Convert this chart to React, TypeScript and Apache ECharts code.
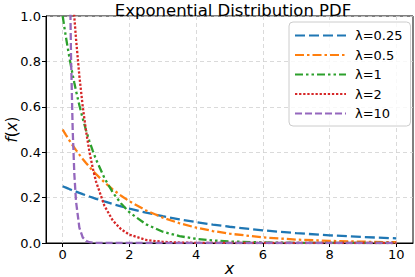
import React, { useEffect, useRef } from "react";
import * as echarts from "echarts";

const xs = [0, 0.05, 0.1, 0.15, 0.2, 0.25, 0.3, 0.35, 0.4, 0.5, 0.6, 0.7, 0.8, 0.9, 1.0, 1.25, 1.5, 1.75, 2, 2.5, 3, 3.5, 4, 4.5, 5, 6, 7, 8, 9, 10];

const lam025 = [0.25, 0.2469, 0.2438, 0.2407, 0.2376, 0.2346, 0.2316, 0.2287, 0.2262, 0.2206, 0.2152, 0.2099, 0.2047, 0.1997, 0.1947, 0.183, 0.1718, 0.1614, 0.1516, 0.1338, 0.1181, 0.1042, 0.092, 0.0812, 0.0716, 0.0558, 0.0434, 0.0338, 0.0263, 0.0205];
const lam05 = [0.5, 0.4877, 0.4756, 0.4639, 0.4524, 0.4412, 0.4304, 0.4197, 0.4094, 0.3894, 0.3704, 0.3524, 0.3352, 0.3188, 0.3033, 0.2676, 0.2362, 0.2084, 0.1839, 0.1433, 0.1116, 0.0869, 0.0677, 0.0527, 0.041, 0.0249, 0.0151, 0.0092, 0.0056, 0.0034];
const lam1 = [1.0, 0.9512, 0.9048, 0.8607, 0.8187, 0.7788, 0.7408, 0.7047, 0.6703, 0.6065, 0.5488, 0.4966, 0.4493, 0.4066, 0.3679, 0.2865, 0.2231, 0.1738, 0.1353, 0.0821, 0.0498, 0.0302, 0.0183, 0.0111, 0.0067, 0.0025, 0.0009, 0.0003, 0.0001, 0.0];
const lam2 = [2.0, 1.8097, 1.6375, 1.4816, 1.3406, 1.2131, 1.0976, 0.9932, 0.8987, 0.7358, 0.6024, 0.4932, 0.4038, 0.3306, 0.2707, 0.1642, 0.0996, 0.0604, 0.0366, 0.0135, 0.005, 0.0018, 0.0007, 0.0002, 0.0001, 0, 0, 0, 0, 0];
const lam10 = [10, 6.0653, 3.6788, 2.2313, 1.3534, 0.8208, 0.4979, 0.302, 0.1832, 0.0674, 0.0248, 0.0091, 0.0034, 0.0012, 0.0005, 0, 0, 0, 0, 0, 0, 0, 0, 0, 0, 0, 0, 0, 0, 0];

const seriesNames = ["λ=0.25", "λ=0.5", "λ=1", "λ=2", "λ=10"];
const xTicks = [0, 2, 4, 6, 8, 10];

const FONT = "DejaVu Sans";

export default function App() {
  const ref = useRef<HTMLDivElement>(null);
  useEffect(() => {
    if (!ref.current) return;
    const chart = echarts.init(ref.current, null, { renderer: "svg" });
    const values = [lam025, lam05, lam1, lam2, lam10];
    const colors = ["#1f77b4", "#ff7f0e", "#2ca02c", "#d62728", "#9467bd"];
    const dashes: number[][] = [
      [10, 4],
      [9, 3, 2.5, 3],
      [8, 3, 2.5, 3, 2.5, 3],
      [2.3, 1.8],
      [7, 3],
    ];
    chart.setOption({
      animation: false,
      textStyle: { fontFamily: FONT },
      title: {
        text: "Exponential Distribution PDF",
        left: 228,
        textAlign: "center",
        top: -3,
        textStyle: { fontFamily: FONT, fontSize: 16.5, fontWeight: "normal", color: "#000" },
      },
      grid: {
        left: 46,
        right: 2,
        top: 16,
        bottom: 34,
        show: true,
        borderColor: "#000",
        borderWidth: 1,
        backgroundColor: "transparent",
        containLabel: false,
        outerBoundsMode: "none",
      },
      legend: {
        orient: "vertical",
        left: 289,
        top: 22,
        data: seriesNames,
        itemWidth: 51,
        itemHeight: 12,
        itemGap: 6.5,
        padding: [7, 8, 6, 5],
        backgroundColor: "rgba(255,255,255,0.8)",
        borderColor: "#cccccc",
        borderWidth: 1,
        borderRadius: 4,
        itemStyle: { opacity: 0 },
        textStyle: { fontFamily: FONT, fontSize: 13, color: "#000", padding: [0, 0, 0, 4] },
      },
      xAxis: {
        type: "value",
        min: -0.5,
        max: 10.5,
        name: "{i|x}",
        nameLocation: "middle",
        nameGap: 18,
        nameMoveOverlap: false,
        nameTextStyle: {
          lineHeight: 15,
          rich: { i: { fontFamily: FONT, fontStyle: "italic", fontSize: 16, lineHeight: 15, color: "#000" } },
        },
        axisLine: { show: true, onZero: false, lineStyle: { color: "#000", width: 1 } },
        axisTick: { show: true, length: 4, lineStyle: { color: "#000" }, customValues: xTicks },
        axisLabel: {
          show: true,
          customValues: xTicks,
          fontFamily: FONT,
          fontSize: 13,
          color: "#000",
          margin: 5,
        },
        splitLine: { show: true, lineStyle: { color: "#d0d0d0", type: [4, 3], width: 0.8 } },
      },
      yAxis: {
        type: "value",
        min: 0,
        max: 1,
        interval: 0.2,
        name: "{i|f}{n|(}{i|x}{n|)}",
        nameLocation: "middle",
        nameGap: 27,
        nameMoveOverlap: false,
        nameRotate: 90,
        nameTextStyle: {
          rich: {
            i: { fontFamily: FONT, fontStyle: "italic", fontSize: 15, color: "#000" },
            n: { fontFamily: FONT, fontSize: 15, color: "#000" },
          },
        },
        axisLine: { show: true, onZero: false, lineStyle: { color: "#000", width: 1 } },
        axisTick: { show: true, length: 4, lineStyle: { color: "#000" } },
        axisLabel: {
          fontFamily: FONT,
          fontSize: 13,
          color: "#000",
          margin: 5,
          formatter: (v: number) => v.toFixed(1),
        },
        splitLine: { show: true, lineStyle: { color: "#d0d0d0", type: [4, 3], width: 0.8 } },
      },
      series: seriesNames.map((name, k) => ({
        name,
        type: "line",
        data: xs.map((x, i) => [x, values[k][i]]),
        symbol: "none",
        showSymbol: false,
        clip: true,
        color: colors[k],
        lineStyle: { color: colors[k], width: 2.3, type: dashes[k] },
        z: 2 + k,
      })),
    });
    return () => chart.dispose();
  }, []);
  return <div ref={ref} style={{ width: 415, height: 277, position: "absolute", left: 0, top: 0 }} />;
}
